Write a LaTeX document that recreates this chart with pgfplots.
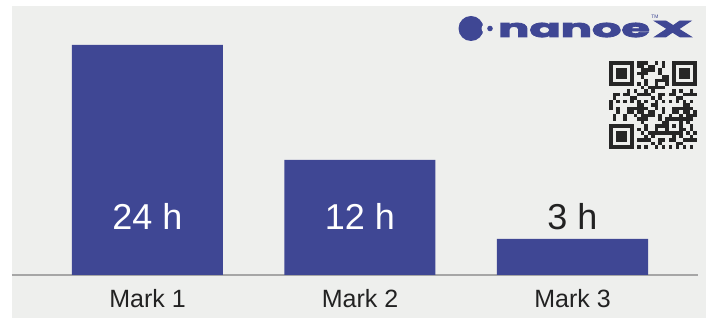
\documentclass[border=0pt]{standalone}
\usepackage{graphicx}
\usepackage{pgfplots}
\pgfplotsset{compat=1.18}
\usepackage{fontspec}
\setmainfont{Liberation Sans}
\newfontfamily\logofont{Poppins}[FakeBold=3]
\definecolor{barblue}{HTML}{3F4794}
\definecolor{bggray}{HTML}{EEEFED}
\definecolor{axisgray}{HTML}{A6A6A6}
\definecolor{txtdark}{HTML}{222222}
\definecolor{qr}{HTML}{262626}
\begin{document}
\begin{tikzpicture}[x=1pt,y=1pt]
\fill[white] (0,0) rectangle (716,318);
\fill[bggray] (12,0) rectangle (706,312);
\begin{axis}[
  at={(12pt,43pt)}, anchor=south west,
  width=686pt, height=269pt, scale only axis,
  xmin=-0.6376, xmax=2.5906, ymin=0, ymax=28.07,
  ybar, bar width=0.7106,
  axis x line*=bottom, hide y axis,
  xtick={0,1,2}, xticklabels={Mark 1,Mark 2,Mark 3},
  major tick length=0pt,
  x axis line style={draw=axisgray, line width=1.6pt},
  xticklabel style={font=\fontsize{25}{30}\selectfont, text=txtdark, anchor=base, yshift=-33pt},
  clip=false,
]
\addplot[fill=barblue, draw=none] coordinates {(0,24) (1,12) (2,3.757)};
\node[anchor=base, text=white, font=\fontsize{36}{40}\selectfont] at (axis cs:0,4.70) {24 h};
\node[anchor=base, text=white, font=\fontsize{36}{40}\selectfont] at (axis cs:1,4.70) {12 h};
\node[anchor=base, text=txtdark, font=\fontsize{36}{40}\selectfont] at (axis cs:2,4.70) {3 h};
\end{axis}
% logo
\fill[barblue] (471,289.5) circle (12.5);
\fill[bggray] (484.5,289.5) ellipse (3 and 4);
\fill[barblue] (490,289.5) circle (2.8);
\node[anchor=base west, inner sep=0, text=barblue] at (498,281) {\scalebox{1.85}[1]{\logofont\bfseries\fontsize{25}{29}\selectfont nanoe}};
\node[anchor=base west, inner sep=0, text=barblue] at (653,281) {\scalebox{2.4}[1]{\logofont\bfseries\fontsize{23}{27}\selectfont X}};
\node[text=barblue, inner sep=0, font=\fontsize{5}{6}\selectfont] at (655,301) {TM};
% QR code
\begin{scope}[shift={(609,169)}]
\foreach \fx/\fy in {0/18, 18/18, 0/0} {
  \fill[qr] (\fx*3.5,\fy*3.5) rectangle ++(24.5,24.5);
  \fill[bggray] (\fx*3.5+3.5,\fy*3.5+3.5) rectangle ++(17.5,17.5);
  \fill[qr] (\fx*3.5+7,\fy*3.5+7) rectangle ++(10.5,10.5);
}
\fill[qr] (16*3.5,4*3.5) rectangle ++(17.5,17.5);
\fill[bggray] (17*3.5,5*3.5) rectangle ++(10.5,10.5);
\fill[qr] (18*3.5,6*3.5) rectangle ++(3.5,3.5);
\foreach \i in {0,...,24} {
  \foreach \j in {0,...,24} {
    \pgfmathtruncatemacro{\inf}{(\i<8)*(\j>16)+(\i>16)*(\j>16)+(\i<8)*(\j<8)+(\i>15)*(\i<21)*(\j>3)*(\j<9)}
    \pgfmathtruncatemacro{\v}{mod(mod(\i*\i,13)*\j*3+mod(\j*\j,13)*\i*5+\i*7+\j*11+\i*\j,13)}
    \ifnum\inf=0 \ifnum\v<6 \fill[qr] (\i*3.5,\j*3.5) rectangle ++(3.5,3.5); \fi\fi
  }
}
\end{scope}
\end{tikzpicture}
\end{document}
